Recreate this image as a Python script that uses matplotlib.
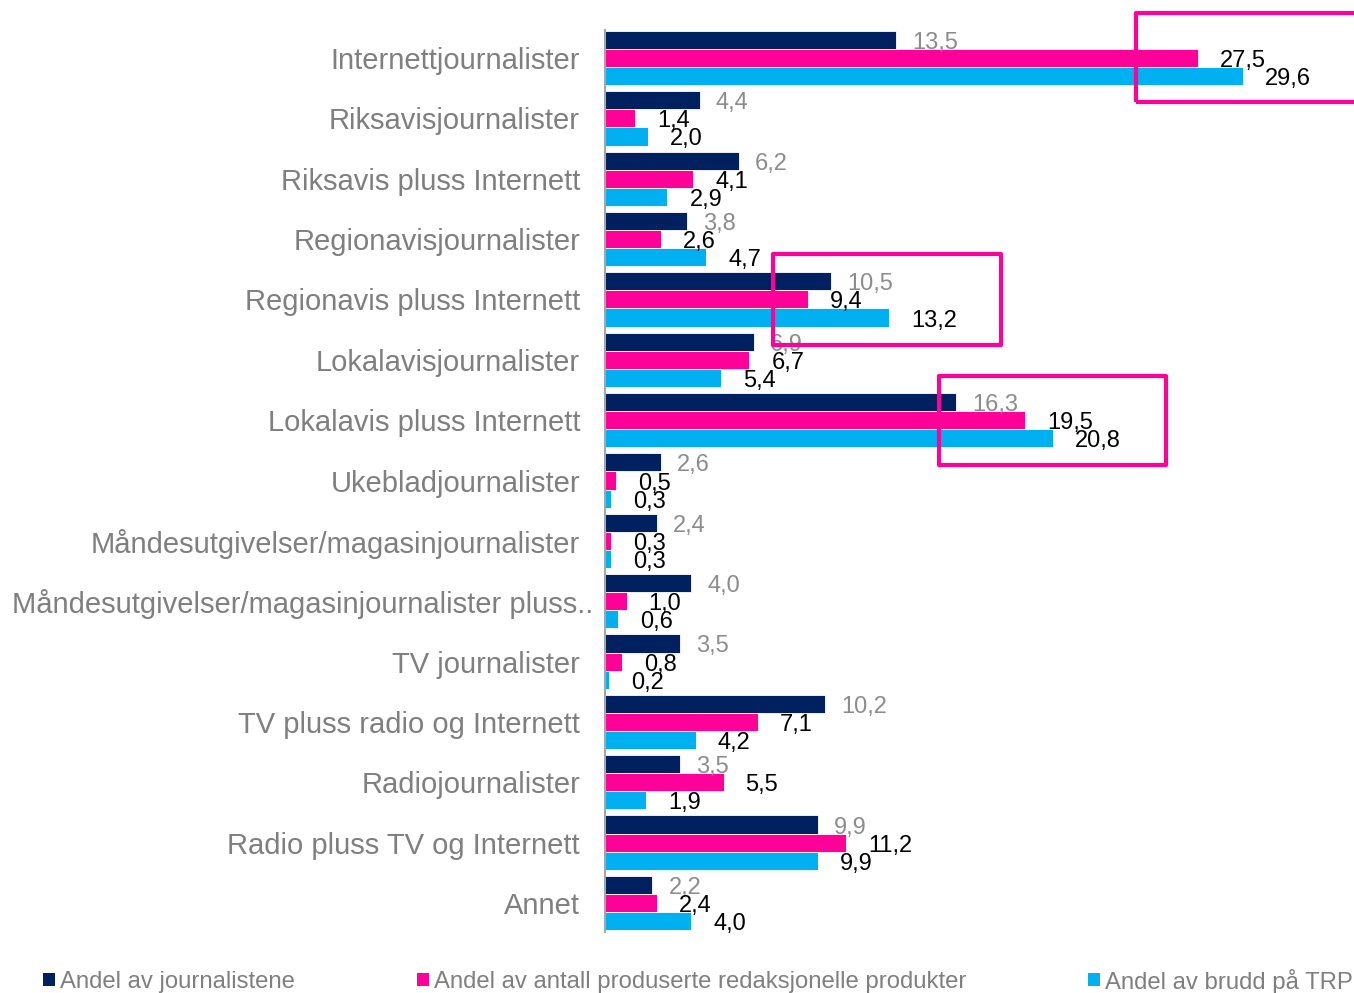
import matplotlib
matplotlib.use("Agg")
import matplotlib.pyplot as plt
from matplotlib.patches import Rectangle
import matplotlib.transforms as mtransforms
import numpy as np

plt.rcParams['font.family'] = ['Liberation Sans', 'DejaVu Sans']

categories = [
    "Internettjournalister",
    "Riksavisjournalister",
    "Riksavis pluss Internett",
    "Regionavisjournalister",
    "Regionavis pluss Internett",
    "Lokalavisjournalister",
    "Lokalavis pluss Internett",
    "Ukebladjournalister",
    "Måndesutgivelser/magasinjournalister",
    "Måndesutgivelser/magasinjournalister pluss..",
    "TV journalister",
    "TV pluss radio og Internett",
    "Radiojournalister",
    "Radio pluss TV og Internett",
    "Annet",
]
journalister = [13.5, 4.4, 6.2, 3.8, 10.5, 6.9, 16.3, 2.6, 2.4, 4.0, 3.5, 10.2, 3.5, 9.9, 2.2]
produkter = [27.5, 1.4, 4.1, 2.6, 9.4, 6.7, 19.5, 0.5, 0.3, 1.0, 0.8, 7.1, 5.5, 11.2, 2.4]
brudd = [29.6, 2.0, 2.9, 4.7, 13.2, 5.4, 20.8, 0.3, 0.3, 0.6, 0.2, 4.2, 1.9, 9.9, 4.0]
legend_labels = ["Andel av journalistene",
                 "Andel av antall produserte redaksjonelle produkter",
                 "Andel av brudd på TRP"]

colors = ["#002060", "#FF0099", "#00B0F0"]
label_colors = ["#8C8C8C", "black", "black"]
W, H = 1354, 993
fig = plt.figure(figsize=(W / 100, H / 100), dpi=100)

ax_left, ax_right = 605, 1354
ax_top, ax_bot = 30, 932
ax = fig.add_axes([ax_left / W, 1 - ax_bot / H, (ax_right - ax_left) / W, (ax_bot - ax_top) / H])

n = len(categories)
y = np.arange(n)
h = 0.30
series = [journalister, produkter, brudd]
offsets = [-h, 0, h]
for s, off, c, lc in zip(series, offsets, colors, label_colors):
    ax.barh(y + off, s, height=h, color=c, edgecolor="white", linewidth=0.6)
    dx = 16 if lc != "black" else 22
    for yy, v in zip(y + off, s):
        tr = mtransforms.offset_copy(ax.transData, fig=fig, x=dx * 0.72, y=-3 * 0.72, units='points')
        ax.text(v, yy, f"{v:.1f}".replace(".", ","), transform=tr, ha="left", va="center",
                fontsize=17, color=lc, clip_on=False)

scale = 21.55
ax.set_xlim(0, (ax_right - ax_left) / scale)
g_top = (ax_top - 58) / 60.36
g_bot = 14 + (ax_bot - 903) / 60.36
ax.set_ylim(g_bot, g_top)

for sp in ["top", "right", "bottom"]:
    ax.spines[sp].set_visible(False)
ax.spines["left"].set_color("#A6A6A6")
ax.spines["left"].set_linewidth(1.5)
ax.set_xticks([])
ax.set_yticks([])

# category labels
ytr = mtransforms.offset_copy(mtransforms.blended_transform_factory(fig.transFigure, ax.transData),
                              fig=fig, x=0, y=-3 * 0.72, units='points')
for i, cat in enumerate(categories):
    if cat.endswith(".."):
        ax.text(12 / W, i, cat, transform=ytr, ha="left", va="center", fontsize=21, color="#7F7F7F")
    else:
        ax.text(580 / W, i, cat, transform=ytr, ha="right", va="center", fontsize=21, color="#7F7F7F")

# highlight boxes (figure pixel layout)
for (x0, y0, x1, y1) in [(1136, 13, 1360, 102), (773, 254, 1001, 345), (939, 376, 1166, 465)]:
    fig.patches.append(Rectangle((x0 / W, 1 - y1 / H), (x1 - x0) / W, (y1 - y0) / H,
                                 transform=fig.transFigure, fill=False, edgecolor="#FF0099",
                                 linewidth=3.0, joinstyle="round"))

# legend
leg_x = [43, 417, 1088]
for lx, lab, c in zip(leg_x, legend_labels, colors):
    fig.patches.append(Rectangle((lx / W, 1 - 986 / H), 12 / W, 13 / H, transform=fig.transFigure,
                                 facecolor=c, edgecolor="none"))
    fig.text((lx + 17) / W, 1 - 982 / H, lab, ha="left", va="center", fontsize=17.2, color="#7F7F7F")

fig.savefig("out.png", dpi=100)
